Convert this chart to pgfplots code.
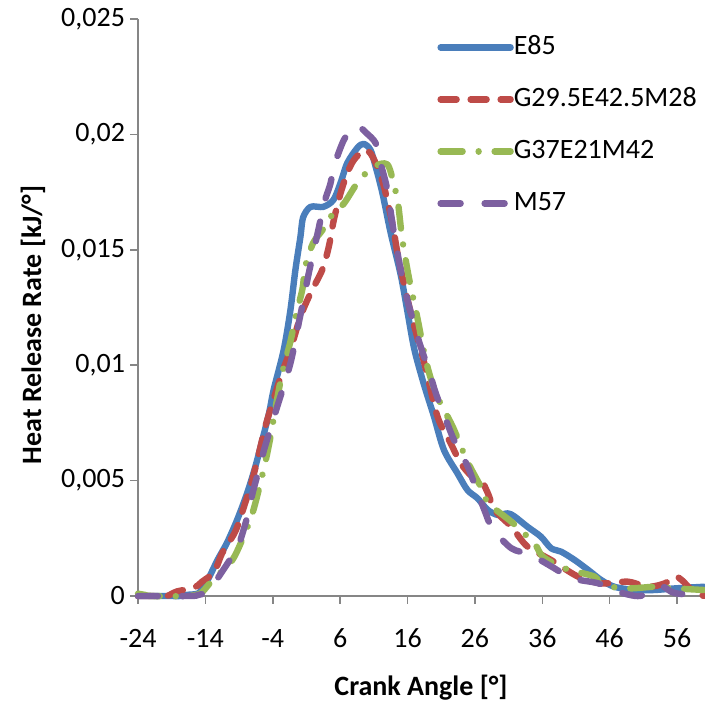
\documentclass[border=0pt]{standalone}
\usepackage{fontspec}
\setmainfont{Carlito}
\usepackage{pgfplots}
\pgfplotsset{compat=1.18}
\usepackage{pgfplotstable}
\definecolor{cE}{HTML}{4A7EBB}
\definecolor{cG}{HTML}{BE4B48}
\definecolor{cH}{HTML}{98B954}
\definecolor{cM}{HTML}{7D60A0}
\definecolor{axgray}{HTML}{868686}
\newcommand\lab{\fontsize{14}{17}\selectfont}

\pgfplotstableread{
x y
-24 0
-20 0
-17.5 0
-16.7 0.00005
-15.0 0.00012
-14.2 0.0005
-13.5 0.00078
-12.2 0.00156
-10.8 0.0023
-9.3 0.00329
-7.8 0.00446
-6.6 0.00559
-5.55 0.00676
-4.55 0.00793
-3.87 0.00893
-2.38 0.01066
-1.38 0.01239
-0.64 0.01413
0.11 0.01557
0.5 0.0164
1.6 0.01686
3.5 0.01686
5.0 0.01716
6.06 0.0179
7.06 0.01876
8.54 0.01941
9.48 0.01959
10.5 0.01933
11.27 0.0186
12.27 0.01746
13.5 0.01573
15.0 0.0139
16.0 0.0123
17.0 0.0107
18.4 0.0092
19.9 0.0078
21.4 0.00633
23.4 0.00532
24.9 0.00459
26.4 0.00423
27.9 0.00373
29.4 0.00351
30.9 0.00358
31.9 0.00344
33.8 0.0030
35.8 0.00257
37.3 0.00207
38.8 0.00192
40.8 0.00156
42.8 0.00113
44.75 0.00069
46.7 0.0004
49.7 0.00026
52.7 0.00026
55.7 0.00033
60 0.0004
}\tE

\pgfplotstableread{
x y
-24 0
-21 0
-19.7 0
-18.2 0.0002
-15.7 0.00035
-14.5 0.00062
-12.7 0.00104
-11.5 0.00186
-9.57 0.00279
-8.27 0.00387
-7.04 0.00503
-6.04 0.0062
-5.1 0.00734
-4.06 0.00836
-2.6 0.0097
-1.38 0.01066
0.11 0.0121
1.6 0.01312
3.34 0.01413
4.32 0.01514
5.06 0.01629
6.06 0.01745
7.06 0.01832
8.04 0.01889
9.53 0.01932
10.5 0.01918
11.5 0.0186
12.5 0.01774
13.75 0.01615
14.7 0.01456
16.5 0.01225
18.5 0.01008
20.45 0.00777
22.4 0.00662
23.9 0.00575
25.5 0.0052
26.9 0.00503
28 0.0044
28.9 0.00373
31.4 0.0030
33.8 0.00214
37.3 0.00156
41.3 0.00084
44.75 0.00055
48.7 0.00062
51.7 0.0004
54.2 0.00055
55.7 0.00084
56.7 0.00069
58.2 0.00026
60 0.0
}\tG

\pgfplotstableread{
x y
-24 0.0001
-23 0.00005
-22 0
-17 0
-14.8 0.0001
-13.5 0.0005
-12.5 0.0008
-10 0.00156
-8.3 0.0026
-7 0.0036
-6 0.0047
-5.1 0.0058
-4.4 0.0068
-3.5 0.0083
-2.6 0.00965
-1.4 0.011
-0.6 0.0121
0.4 0.0133
0.85 0.0143
2.0 0.0153
3.5 0.0159
5 0.0166
6.55 0.0170
8.8 0.0180
11 0.0186
13 0.0187
14 0.0178
14.6 0.0170
15.2 0.0155
16.2 0.0138
17.5 0.0120
18.7 0.01023
20.2 0.00878
22.7 0.00734
24.9 0.00582
27.4 0.00445
27.9 0.00402
31.4 0.00322
34.8 0.00228
36.1 0.0017
39.3 0.0012
43.75 0.00084
44.75 0.00048
48.7 0.00033
52.7 0.0004
55.7 0.00033
60 0.00026
}\tH

\pgfplotstableread{
x y
-24 0
-16.3 0
-15 0.00005
-14.0 0.00015
-12.7 0.00055
-9.75 0.00185
-8.8 0.00243
-7.5 0.00373
-7.0 0.00445
-5.8 0.00575
-5.3 0.00633
-3.8 0.00777
-3.17 0.00836
-1.38 0.01008
-0.15 0.01182
0.36 0.01254
1.34 0.01398
2.83 0.01595
3.6 0.0170
4.57 0.01788
5.06 0.0186
6.55 0.01976
8.04 0.02034
8.8 0.02034
9.9 0.02006
11.27 0.01962
12.0 0.01875
13.0 0.0176
14.0 0.0157
15.5 0.0134
17.2 0.01153
17.96 0.0108
19.45 0.0095
20.2 0.00878
21.9 0.00748
22.9 0.00676
24.9 0.00563
25.9 0.00488
27.4 0.00373
28.6 0.00293
31.4 0.00207
34.3 0.00178
37.8 0.0012
40.3 0.00077
44.3 0.00055
47.2 0.00019
50.5 0
53.7 0.0004
55.6 0.00013
60 0
}\tM

\begin{document}
\begin{tikzpicture}
\begin{axis}[
  scale only axis, width=283pt, height=288.5pt,
  xmin=-24, xmax=60, ymin=0, ymax=0.025,
  axis lines*=left,
  axis line style={draw=axgray, line width=0.75pt},
  xtick={-24,-14,-4,6,16,26,36,46,56},
  xticklabels={-24,-14,-4,6,16,26,36,46,56},
  ytick={0,0.005,0.01,0.015,0.02,0.025},
  yticklabels={{0},{0,005},{0,01},{0,015},{0,02},{0,025}},
  scaled y ticks=false,
  tick align=outside, major tick length=4pt,
  tick style={draw=axgray, line width=0.75pt},
  tick label style={font=\lab},
  xticklabel style={yshift=-9pt},
  yticklabel style={xshift=1pt},
  xlabel={Crank Angle [°]}, ylabel={Heat Release Rate [kJ/°]},
  label style={font=\lab\bfseries},
  xlabel style={at={(axis description cs:0.5,-0.1594)}, anchor=center},
  ylabel style={at={(axis description cs:-0.1855,0.47)}, anchor=center},
  clip=false,
  legend cell align=left,
  legend image code/.code={\draw[#1] (0pt,0pt) -- (35pt,0pt);},
  legend style={draw=none, fill=none, font=\lab, at={(axis description cs:0.5283,0.974)}, anchor=north west, row sep=13pt, inner sep=0pt,
    nodes={inner sep=0pt, text height=10pt, text depth=3pt}},
  every axis plot/.append style={line width=3.2pt, line cap=round, line join=round, smooth},
]
\addplot[cE] table {\tE};
\addlegendentry{E85}
\addplot[cG, dash pattern=on 8pt off 7pt] table {\tG};
\addlegendentry{G29.5E42.5M28}
\addplot[cH, dash pattern=on 11pt off 8pt on 0.01pt off 8pt] table {\tH};
\addlegendentry{G37E21M42}
\addplot[cM, dash pattern=on 10pt off 12pt] table {\tM};
\addlegendentry{M57}
\end{axis}
\pgfresetboundingbox
\path[use as bounding box] ([xshift=-69pt,yshift=-56.5pt]current axis.south west) rectangle ([yshift=9.5pt]current axis.north east);
\end{tikzpicture}
\end{document}
